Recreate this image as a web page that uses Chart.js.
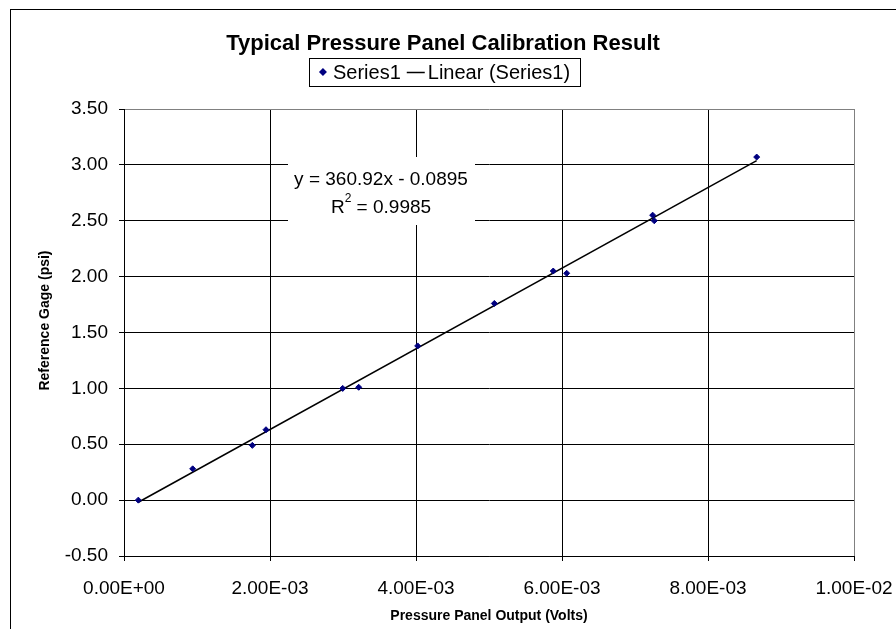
<!DOCTYPE html>
<html>
<head>
<meta charset="utf-8">
<title>Typical Pressure Panel Calibration Result</title>
<script src="https://cdn.jsdelivr.net/npm/chart.js@4.4.1/dist/chart.umd.min.js"></script>
<style>
  html, body { margin: 0; padding: 0; background: #fff; }
  canvas { display: block; }
</style>
</head>
<body>
<canvas id="calChart" width="896" height="629"></canvas>
<script>
// panel output (V) vs reference gage reading (psi)
const outputVolts = [0.000196, 0.000941, 0.001758, 0.001945, 0.002996, 0.003215, 0.004023,
                     0.005073, 0.005880, 0.006064, 0.007242, 0.007264, 0.008667];
const gagePsi = [0.00, 0.28, 0.49, 0.63, 1.00, 1.01, 1.38, 1.76, 2.05, 2.03, 2.55, 2.50, 3.07];

// least-squares fit reported on the chart
const fitSlope = 360.92;
const fitIntercept = -0.0895;
const fitR2 = 0.9985;

const xTicks = [0, 0.002, 0.004, 0.006, 0.008, 0.01];
const yTicks = [-0.5, 0, 0.5, 1.0, 1.5, 2.0, 2.5, 3.0, 3.5];

const FONT = "'Liberation Sans', Arial, sans-serif";
const MARKER = '#000080';

const points = outputVolts.map((x, i) => ({ x: x, y: gagePsi[i] }));
const xMin = Math.min(...outputVolts);
const xMax = Math.max(...outputVolts);
const trend = [xMin, xMax].map(x => ({ x: x, y: fitSlope * x + fitIntercept }));

const sci = (v) => {
  const [m, e] = Number(v).toExponential(2).split('e');
  const n = parseInt(e, 10);
  return m + 'E' + (n < 0 ? '-' : '+') + String(Math.abs(n)).padStart(2, '0');
};

// title, boxed legend, axis titles, equation label and outer frame
const decorations = {
  id: 'decorations',
  beforeDraw(chart) {
    const ctx = chart.ctx;
    ctx.save();
    ctx.fillStyle = '#fff';
    ctx.fillRect(0, 0, chart.width, chart.height);
    ctx.strokeStyle = '#000';
    ctx.lineWidth = 1;
    ctx.strokeRect(10.5, 9.5, 900, 640);
    ctx.restore();
  },
  afterDatasetsDraw(chart) {
    const ctx = chart.ctx;
    const area = chart.chartArea;
    ctx.save();

    // chart title
    ctx.fillStyle = '#000';
    ctx.textAlign = 'center';
    ctx.textBaseline = 'middle';
    ctx.font = 'bold 22px ' + FONT;
    ctx.fillText('Typical Pressure Panel Calibration Result', 443, 44);

    // legend box, contents centred inside
    const ds = chart.data.datasets;
    const bx = 309, bw = 271, by = 58, bh = 28;
    const ly = by + bh / 2;
    ctx.strokeStyle = '#000';
    ctx.lineWidth = 1;
    ctx.fillStyle = '#fff';
    ctx.fillRect(bx, by, bw, bh);
    ctx.strokeRect(bx + 0.5, by + 0.5, bw, bh);
    ctx.font = '20px ' + FONT;
    const w1 = ctx.measureText(ds[0].label).width;
    const w2 = ctx.measureText(ds[1].label).width;
    const total = 8 + 6 + w1 + 6 + 18 + 3 + w2;
    let cx = bx + (bw - total) / 2;
    ctx.fillStyle = MARKER;
    ctx.beginPath();
    ctx.moveTo(cx + 4, ly - 4); ctx.lineTo(cx + 8, ly); ctx.lineTo(cx + 4, ly + 4); ctx.lineTo(cx, ly);
    ctx.closePath();
    ctx.fill();
    cx += 14;
    ctx.fillStyle = '#000';
    ctx.textAlign = 'left';
    ctx.fillText(ds[0].label, cx, ly + 1);
    cx += w1 + 6;
    ctx.beginPath();
    ctx.moveTo(cx, ly + 0.5); ctx.lineTo(cx + 18, ly + 0.5);
    ctx.lineWidth = 1.5;
    ctx.stroke();
    cx += 21;
    ctx.fillText(ds[1].label, cx, ly + 1);

    // axis titles
    ctx.font = 'bold 14px ' + FONT;
    ctx.textAlign = 'center';
    ctx.fillText('Pressure Panel Output (Volts)', (area.left + area.right) / 2, 616);
    ctx.save();
    ctx.translate(45, (area.top + area.bottom) / 2 - 12);
    ctx.rotate(-Math.PI / 2);
    ctx.fillText('Reference Gage (psi)', 0, 0);
    ctx.restore();

    // trendline equation with white backing
    ctx.fillStyle = '#fff';
    ctx.fillRect(288, 157, 187, 68);
    ctx.fillStyle = '#000';
    ctx.font = '19px ' + FONT;
    ctx.textAlign = 'center';
    const sign = fitIntercept < 0 ? ' - ' : ' + ';
    ctx.fillText('y = ' + fitSlope.toFixed(2) + 'x' + sign + Math.abs(fitIntercept).toFixed(4), 381, 180);
    const rest = ' = ' + fitR2.toFixed(4);
    const wR = ctx.measureText('R').width;
    const wRest = ctx.measureText(rest).width;
    ctx.font = '12px ' + FONT;
    const wSup = ctx.measureText('2').width;
    const x0 = 381 - (wR + wSup + wRest) / 2;
    ctx.textAlign = 'left';
    ctx.font = '19px ' + FONT;
    ctx.fillText('R', x0, 208);
    ctx.fillText(rest, x0 + wR + wSup, 208);
    ctx.font = '12px ' + FONT;
    ctx.fillText('2', x0 + wR, 199);

    ctx.restore();
  }
};

const gridColor = (ctx, last) => (ctx.index === last ? '#808080' : '#000');

new Chart(document.getElementById('calChart'), {
  type: 'scatter',
  data: {
    datasets: [{
      label: 'Series1',
      data: points,
      pointStyle: 'rectRot',
      pointRadius: 3,
      pointHoverRadius: 3,
      backgroundColor: MARKER,
      borderColor: MARKER,
      borderWidth: 1,
      order: 1
    }, {
      label: 'Linear (Series1)',
      type: 'line',
      data: trend,
      borderColor: '#000',
      borderWidth: 1.5,
      pointRadius: 0,
      fill: false,
      order: 2
    }]
  },
  plugins: [decorations],
  options: {
    responsive: false,
    animation: false,
    layout: {
      padding: { left: 0, top: 109, right: 42, bottom: 0 }
    },
    plugins: {
      legend: { display: false },
      title: { display: false },
      tooltip: { enabled: false }
    },
    scales: {
      x: {
        type: 'linear',
        min: 0,
        max: 0.01,
        afterBuildTicks: (scale) => { scale.ticks = xTicks.map(v => ({ value: v })); },
        afterFit: (scale) => {
          scale.height = 73;
          scale.paddingLeft = 0;
          scale.paddingRight = 0;
        },
        grid: {
          color: (ctx) => gridColor(ctx, xTicks.length - 1),
          tickColor: '#000',
          tickLength: 5,
          lineWidth: 1
        },
        border: { color: '#000' },
        ticks: {
          maxRotation: 0,
          autoSkip: false,
          padding: 16,
          color: '#000',
          font: { family: FONT, size: 19 },
          callback: (v) => sci(v)
        }
      },
      y: {
        type: 'linear',
        min: -0.5,
        max: 3.5,
        afterBuildTicks: (scale) => { scale.ticks = yTicks.map(v => ({ value: v })); },
        afterFit: (scale) => {
          scale.width = 124;
          scale.paddingTop = 0;
          scale.paddingBottom = 0;
        },
        grid: {
          color: (ctx) => gridColor(ctx, yTicks.length - 1),
          tickColor: '#000',
          tickLength: 5,
          lineWidth: 1
        },
        border: { color: '#000' },
        ticks: {
          padding: 11,
          color: '#000',
          font: { family: FONT, size: 19 },
          callback: (v) => Number(v).toFixed(2)
        }
      }
    }
  }
});
</script>
</body>
</html>
